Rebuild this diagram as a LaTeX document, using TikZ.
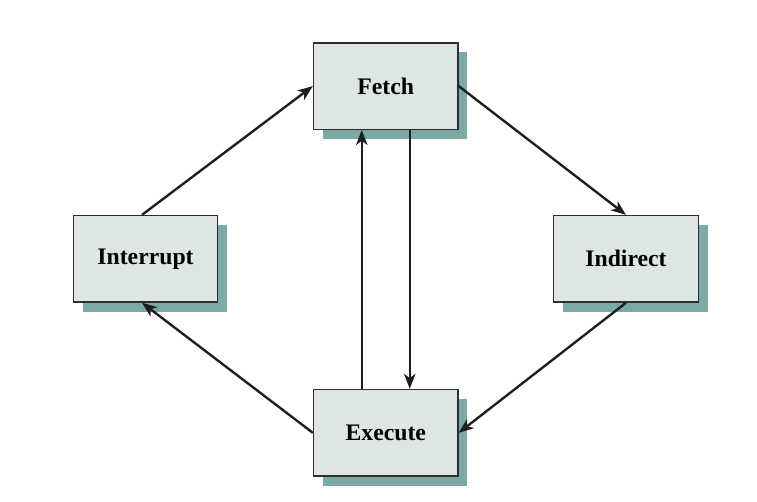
\documentclass[tikz,border=0pt]{standalone}
\usepackage{fontspec}
\setmainfont{Liberation Serif}
\usetikzlibrary{arrows.meta,shadows}

\definecolor{boxfill}{RGB}{221, 230, 229}
\definecolor{boxshadow}{RGB}{123, 169, 165}
\definecolor{boxborder}{RGB}{45, 45, 45}
\definecolor{edgecolor}{RGB}{30, 30, 30}

\begin{document}
\begin{tikzpicture}[x=0.02cm, y=-0.02cm,
    state/.style={draw=boxborder, line width=0.8pt, fill=boxfill,
        minimum width=2.89cm, minimum height=1.73cm, inner sep=0pt,
        font=\fontsize{13.5}{16}\selectfont\bfseries,
        drop shadow={shadow xshift=0.19cm, shadow yshift=-0.19cm, fill=boxshadow, opacity=1}},
    arc/.style={draw, line width=1.35pt, edgecolor,
        -{Stealth[length=8.5pt, width=6.5pt, inset=2.4pt]}}
    ]
    \useasboundingbox (0,0) rectangle (757,501);

    % Define states
    \foreach \name/\pos in {Fetch/{(385.75,86.1)}, Interrupt/{(145.5,258.8)},
                            Indirect/{(626,258.8)}, Execute/{(385.75,432.8)}} {
        \node[state, at=\pos, name=\name] {\name};
    }

    % Define transitions
    \draw[arc] ([xshift=-0.07cm]Interrupt.north) -- (Fetch.west);
    \draw[arc] (Fetch.east) -- (Indirect.north);
    \draw[arc] (Indirect.south) -- (Execute.east);
    \draw[arc] (Execute.west) -- ([xshift=-0.07cm]Interrupt.south);
    \draw[arc] ([xshift=-0.48cm]Execute.north) -- ([xshift=-0.48cm]Fetch.south);
    \draw[arc] ([xshift=0.48cm]Fetch.south) -- ([xshift=0.48cm]Execute.north);
\end{tikzpicture}
\end{document}
